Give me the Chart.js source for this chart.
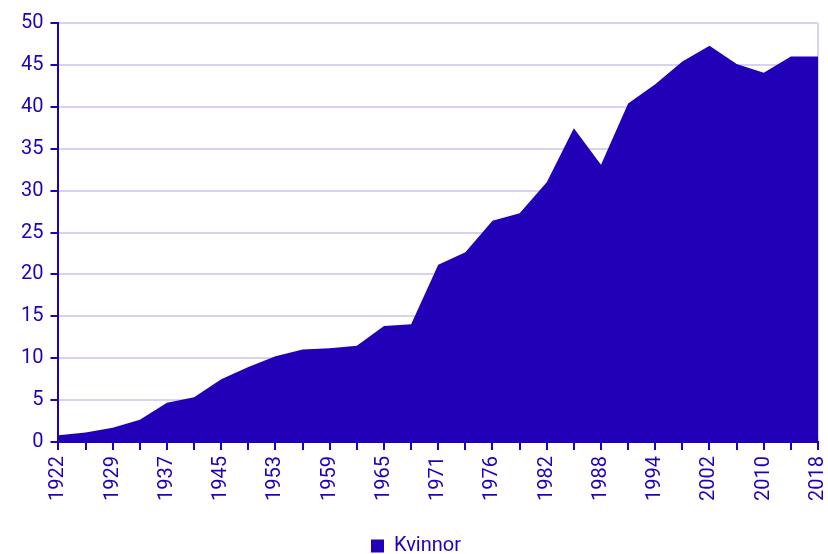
<!DOCTYPE html>
<html>
<head>
<meta charset="utf-8">
<script src="https://cdn.jsdelivr.net/npm/chart.js@4"></script>
<style>
  html, body { margin: 0; padding: 0; background: #fff; }
  #wrap { width: 828px; height: 554px; }
</style>
</head>
<body>
<div id="wrap"><canvas id="chart" width="828" height="554"></canvas></div>
<script>
// valår
const years = ['1922', '1925', '1929', '1933', '1937', '1941', '1945', '1949', '1953', '1957',
  '1959', '1961', '1965', '1969', '1971', '1974', '1976', '1979', '1982', '1985',
  '1988', '1991', '1994', '1998', '2002', '2006', '2010', '2014', '2018'];

// andel kvinnor (procent)
const kvinnor = [0.8, 1.15, 1.7, 2.65, 4.7, 5.35, 7.5, 8.95, 10.25, 11.05,
  11.2, 11.5, 13.85, 14.05, 21.15, 22.65, 26.4, 27.3, 31.0, 37.45,
  33.1, 40.4, 42.7, 45.4, 47.3, 45.1, 44.05, 46.0, 46.0];

const yTicks = [0, 5, 10, 15, 20, 25, 30, 35, 40, 45, 50];

const bla = '#2200b8';
const rutnat = '#d4d4f0';
const typsnitt = { family: 'Roboto', size: 20 };

// legenden närmare nederkanten
const legendNer = {
  id: 'legendNer',
  beforeInit(chart) {
    const fit = chart.legend.fit;
    chart.legend.fit = function () {
      fit.bind(chart.legend)();
      this.height -= 12;
    };
  }
};

const ctx = document.getElementById('chart').getContext('2d');
new Chart(ctx, {
  type: 'line',
  data: {
    labels: years,
    datasets: [{
      label: 'Kvinnor',
      data: kvinnor,
      backgroundColor: bla,
      borderColor: bla,
      borderWidth: 0,
      fill: 'origin',
      pointRadius: 0,
      tension: 0
    }]
  },
  options: {
    responsive: false,
    animation: false,
    layout: { padding: { top: 23, right: 10, left: 14, bottom: 0 } },
    scales: {
      x: {
        offset: false,
        afterFit: (ax) => {
          ax.height += 29;
          ax.paddingLeft = 0;
          ax.paddingRight = 0;
        },
        grid: {
          color: (c) => c.index === years.length - 1 ? rutnat : 'transparent',
          tickColor: bla,
          tickLength: 8,
          lineWidth: 2
        },
        border: { color: bla, width: 2 },
        ticks: {
          autoSkip: false,
          minRotation: 90,
          maxRotation: 90,
          color: bla,
          font: typsnitt,
          padding: 6,
          callback: (v, i) => i % 2 === 0 ? years[i] : ''
        }
      },
      y: {
        min: 0,
        max: 50,
        afterBuildTicks: (ax) => { ax.ticks = yTicks.map(v => ({ value: v })); },
        grid: {
          color: rutnat,
          tickColor: bla,
          tickLength: 8,
          lineWidth: 2
        },
        border: { color: bla, width: 2 },
        ticks: {
          color: bla,
          font: typsnitt,
          padding: 7
        }
      }
    },
    plugins: {
      legend: {
        position: 'bottom',
        labels: {
          color: bla,
          font: typsnitt,
          boxWidth: 13,
          boxHeight: 13,
          padding: 0
        }
      },
      tooltip: { enabled: false }
    }
  },
  plugins: [legendNer]
});
</script>
</body>
</html>
